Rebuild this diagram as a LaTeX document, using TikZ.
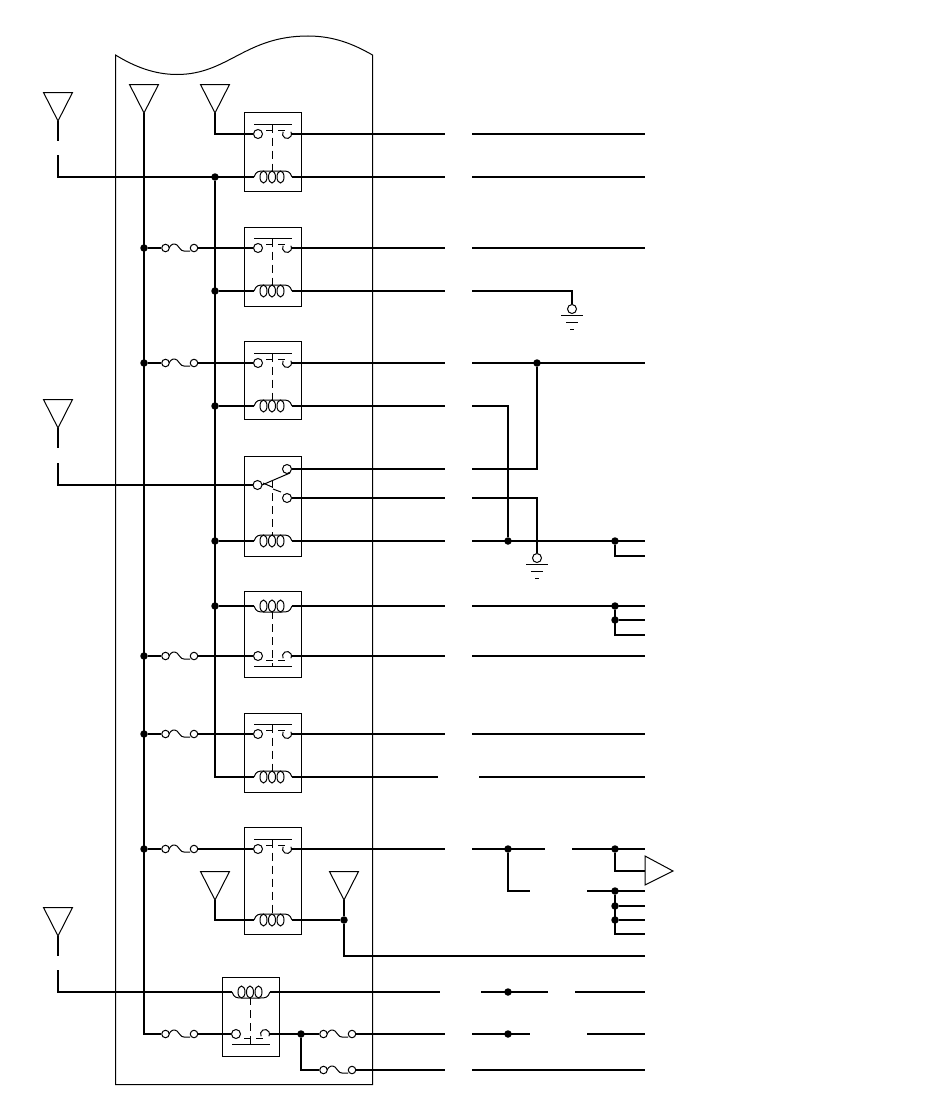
\documentclass[tikz,border=0pt]{standalone}
\tikzset{
  wire/.style={line width=2pt,line join=miter},
  thin line/.style={line width=1pt},
  term/.style={circle,draw,line width=1pt,minimum size=9pt,inner sep=0pt,fill=white},
  openterm/.style={circle,minimum size=9pt,inner sep=0pt},
  dot/.style={circle,fill=black,minimum size=7.5pt,inner sep=0pt},
  relaybox/.style={draw,line width=1pt},
  dashlink/.style={line width=1pt,dash pattern=on 8pt off 5pt},
  antenna/.style={draw,line width=1pt,line join=miter},
}
% coil drawn with its arch on top (d=-1) or below (d=1); centre x, centre y
\newcommand{\coilshape}[3]{%
  \draw[thin line] ({#1-19},#2) .. controls ({#1-17},{#2+#3*6}) and ({#1-14},{#2+#3*6}) .. ({#1-9},{#2+#3*6})
     -- ({#1+9},{#2+#3*6}) .. controls ({#1+14},{#2+#3*6}) and ({#1+17},{#2+#3*6}) .. ({#1+19},#2);
  \foreach \cc in {-9.5,-1,7.5}{\draw[thin line,fill=white] ({#1+\cc},#2) ellipse [x radius=3.5pt,y radius=6pt];}
}
% name, centre x, top, bottom, contact y, coil y
\newcommand{\relayup}[6]{%
  \draw[relaybox] ({#2-28.5},{#3+0.5}) rectangle ({#2+28.5},{#4-0.5});
  \coordinate (#1cl) at ({#2-19},#6);
  \coordinate (#1cr) at ({#2+19},#6);
  \draw[thin line] ({#2-19},{#5-9.5}) -- ({#2+19},{#5-9.5});
  \draw[thin line] ({#2-7},{#5-3.5}) -- ({#2-0.5},{#5-3.5});
  \draw[thin line] ({#2+5},{#5-3.5}) -- ({#2+12},{#5-3.5});
  \draw[dashlink] ({#2-0.5},{#5-9.5}) -- ({#2-0.5},{#6-5});
  \node[term] (#1a) at ({#2-15},#5) {};
  \node[openterm] (#1b) at ({#2+14},#5) {};
  \draw[thin line] ({#2+14},#5) ++(150:4.5pt) arc[start angle=150,end angle=390,radius=4.5pt];
  \coilshape{#2}{#6}{-1}
}
\newcommand{\relaydown}[6]{%
  \draw[relaybox] ({#2-28.5},{#3+0.5}) rectangle ({#2+28.5},{#4-0.5});
  \coordinate (#1cl) at ({#2-19},#6);
  \coordinate (#1cr) at ({#2+19},#6);
  \draw[thin line] ({#2-19},{#5+10.5}) -- ({#2+19},{#5+10.5});
  \draw[thin line] ({#2-7},{#5+4.5}) -- ({#2-0.5},{#5+4.5});
  \draw[thin line] ({#2+5},{#5+4.5}) -- ({#2+12},{#5+4.5});
  \draw[dashlink] ({#2-0.5},{#6+5}) -- ({#2-0.5},{#5+10.5});
  \node[term] (#1a) at ({#2-15},#5) {};
  \node[openterm] (#1b) at ({#2+14},#5) {};
  \draw[thin line] ({#2+14},#5) ++(210:4.5pt) arc[start angle=210,end angle=-30,radius=4.5pt];
  \coilshape{#2}{#6}{1}
}
% name, left terminal x, y
\newcommand{\fuse}[3]{%
  \node[term,minimum size=7.5pt] (#1a) at ({#2+0.5},#3) {};
  \node[term,minimum size=7.5pt] (#1b) at ({#2+29},#3) {};
  \draw[thin line] ({#2+4},#3) .. controls ({#2+6},{#3-4}) and ({#2+9},{#3-5}) .. ({#2+12},{#3-3})
     .. controls ({#2+15},{#3-1}) and ({#2+15},{#3+3}) .. ({#2+19},{#3+3}) -- ({#2+25},{#3+3});
}
% name, tip x, top y (tip is 29 below)
\newcommand{\ant}[3]{%
  \draw[antenna] ({#2-14.5},{#3+0.5}) -- ({#2+14.5},{#3+0.5}) -- (#2,{#3+29}) -- cycle;
  \coordinate (#1) at (#2,{#3+29});
}
% ground: name, x, circle y
\newcommand{\gnd}[3]{%
  \node[term] (#1) at (#2,#3) {};
  \draw[thin line] ({#2-11},{#3+6.5}) -- ({#2+11},{#3+6.5});
  \draw[thin line] ({#2-6},{#3+13.5}) -- ({#2+6},{#3+13.5});
  \draw[thin line] ({#2-2},{#3+20.5}) -- ({#2+2},{#3+20.5});
}
\newcommand{\co}[3]{\coordinate (#1) at (#2,#3);}
\newcommand{\jn}[3]{\node[dot] (#1) at (#2,#3) {};}
\begin{document}
\begin{tikzpicture}[x=1pt,y=-1pt]
\useasboundingbox (0,0) rectangle (950,1108);
\fill[white] (0,0) rectangle (950,1108);
% outline
\draw[line width=1pt] (115.5,55) .. controls (135,67) and (155,74.5) .. (177,74.5)
  .. controls (228,74.5) and (245,36) .. (308,36)
  .. controls (335,36) and (355,45) .. (372.5,55) -- (372.5,1084.5) -- (115.5,1084.5) -- cycle;
% antennas
\ant{aL1}{58}{92} \ant{aL2}{58}{399} \ant{aL3}{58}{907}
\ant{aBus}{144}{84} \ant{aIn}{215}{84}
\ant{aLow}{215}{871} \ant{aRt}{344}{871}
% relays
\relayup{r1}{273}{112}{192}{134}{177}
\relayup{r2}{273}{227}{307}{248}{291}
\relayup{r3}{273}{341}{420}{363}{406}
% relay 4, changeover
\draw[relaybox] (244.5,456.5) rectangle (301.5,556.5);
\co{r4cl}{254}{541}\co{r4cr}{292}{541}
\node[term] (r4c) at (257.5,485) {};
\node[term] (r4u) at (287,469) {};
\node[term] (r4d) at (287,498) {};
\draw[thin line] (262,485) -- (290,473);
\draw[thin line] (263,483) -- (272,487);
\draw[thin line] (273,489) -- (281,492);
\draw[dashlink] (272.5,480) -- (272.5,536);
\coilshape{273}{541}{-1}
\relaydown{r5}{273}{591}{678}{656}{606}
\relayup{r6}{273}{713}{793}{734}{777}
\relayup{r7}{273}{827}{935}{849}{920}
\relaydown{r8}{251}{977}{1057}{1034}{992}
% fuses
\fuse{f2}{165}{248}\fuse{f3}{165}{363}\fuse{f5}{165}{656}\fuse{f6}{165}{734}\fuse{f7}{165}{849}
\fuse{f8}{165}{1034}\fuse{f9}{323}{1034}\fuse{f10}{323}{1070}
% junctions
\jn{b2}{144}{248}\jn{b3}{144}{363}\jn{b5}{144}{656}\jn{b6}{144}{734}\jn{b7}{144}{849}
\jn{c1}{215}{177}\jn{c2}{215}{291}\jn{c3}{215}{406}\jn{c4}{215}{541}\jn{c5}{215}{606}
\jn{j363}{537}{363}\jn{j541a}{508}{541}\jn{j541b}{615}{541}
\jn{j606}{615}{606}\jn{j620}{615}{620}
\jn{j849a}{508}{849}\jn{j849b}{615}{849}
\jn{j891}{615}{891}\jn{j906}{615}{906}\jn{j920}{615}{920}
\jn{jAnt}{344}{920}
\jn{j992}{508}{992}\jn{j1034}{508}{1034}\jn{j1034L}{301}{1034}
% free wire ends
\co{e1}{58}{141}\co{s1}{58}{155}\co{e2}{58}{448}\co{s2}{58}{463}\co{e3}{58}{956}\co{s3}{58}{970}
\begin{scope}[wire]
% left antennas
\draw (aL1) -- (e1); \draw (aL2) -- (e2); \draw (aL3) -- (e3);
\draw (s1) -- (58,177) -- (r1cl);
\draw (s2) -- (58,485) -- (r4c);
\draw (s3) -- (58,992) -- (r8cl);
% buses
\draw (aBus) -- (144,1034) -- (f8a);
\draw (c1) -- (215,777) -- (r6cl);
\draw (aIn) -- (215,134) -- (r1a);
\draw (aLow) -- (215,920) -- (r7cl);
\draw (aRt) -- (jAnt) -- (344,956) -- (645,956);
\draw (r7cr) -- (jAnt);
% fuse feeds
\foreach \n/\f/\r in {b2/f2/r2,b3/f3/r3,b5/f5/r5,b6/f6/r6,b7/f7/r7}{
  \draw (\n) -- (\f a); \draw (\f b) -- (\r a);}
\draw (c2) -- (r2cl); \draw (c3) -- (r3cl); \draw (c4) -- (r4cl); \draw (c5) -- (r5cl);
\draw (f8b) -- (r8a);
\draw (r8b) -- (f9a);
\draw (j1034L) -- (301,1070) -- (f10a);
% right side, left-hand run then gap then right-hand run
\draw (r1b) -- (445,134); \draw (472,134) -- (645,134);
\draw (r1cr) -- (445,177); \draw (472,177) -- (645,177);
\draw (r2b) -- (445,248); \draw (472,248) -- (645,248);
\draw (r2cr) -- (445,291); \gnd{g1}{572}{309} \draw (472,291) -- (572,291) -- (g1);
\draw (r3b) -- (445,363); \draw (472,363) -- (645,363);
\draw (r3cr) -- (445,406); \draw (472,406) -- (508,406) -- (j541a);
\draw (r4u) -- (445,469); \draw (472,469) -- (537,469) -- (j363);
\draw (r4d) -- (445,498); \gnd{g2}{537}{558} \draw (472,498) -- (537,498) -- (g2);
\draw (r4cr) -- (445,541); \draw (472,541) -- (645,541);
\draw (j541b) -- (615,556) -- (645,556);
\draw (r5cr) -- (445,606); \draw (472,606) -- (645,606);
\draw (j606) -- (615,635) -- (645,635); \draw (j620) -- (645,620);
\draw (r5b) -- (445,656); \draw (472,656) -- (645,656);
\draw (r6b) -- (445,734); \draw (472,734) -- (645,734);
\draw (r6cr) -- (438,777); \draw (479,777) -- (645,777);
\draw (r7b) -- (445,849); \draw (472,849) -- (545,849); \draw (572,849) -- (645,849);
\draw (j849a) -- (508,891) -- (530,891);
\draw (j849b) -- (615,871) -- (645,871);
\draw (587,891) -- (645,891);
\draw (j891) -- (615,934) -- (645,934);
\draw (j906) -- (645,906); \draw (j920) -- (645,920);
\draw (r8cr) -- (440,992); \draw (481,992) -- (548,992); \draw (575,992) -- (645,992);
\draw (f9b) -- (445,1034); \draw (472,1034) -- (530,1034); \draw (587,1034) -- (645,1034);
\draw (f10b) -- (445,1070); \draw (472,1070) -- (645,1070);
\end{scope}
% output amplifier
\draw[antenna] (645,856) -- (673,871) -- (645,885) -- cycle;
\end{tikzpicture}
\end{document}
